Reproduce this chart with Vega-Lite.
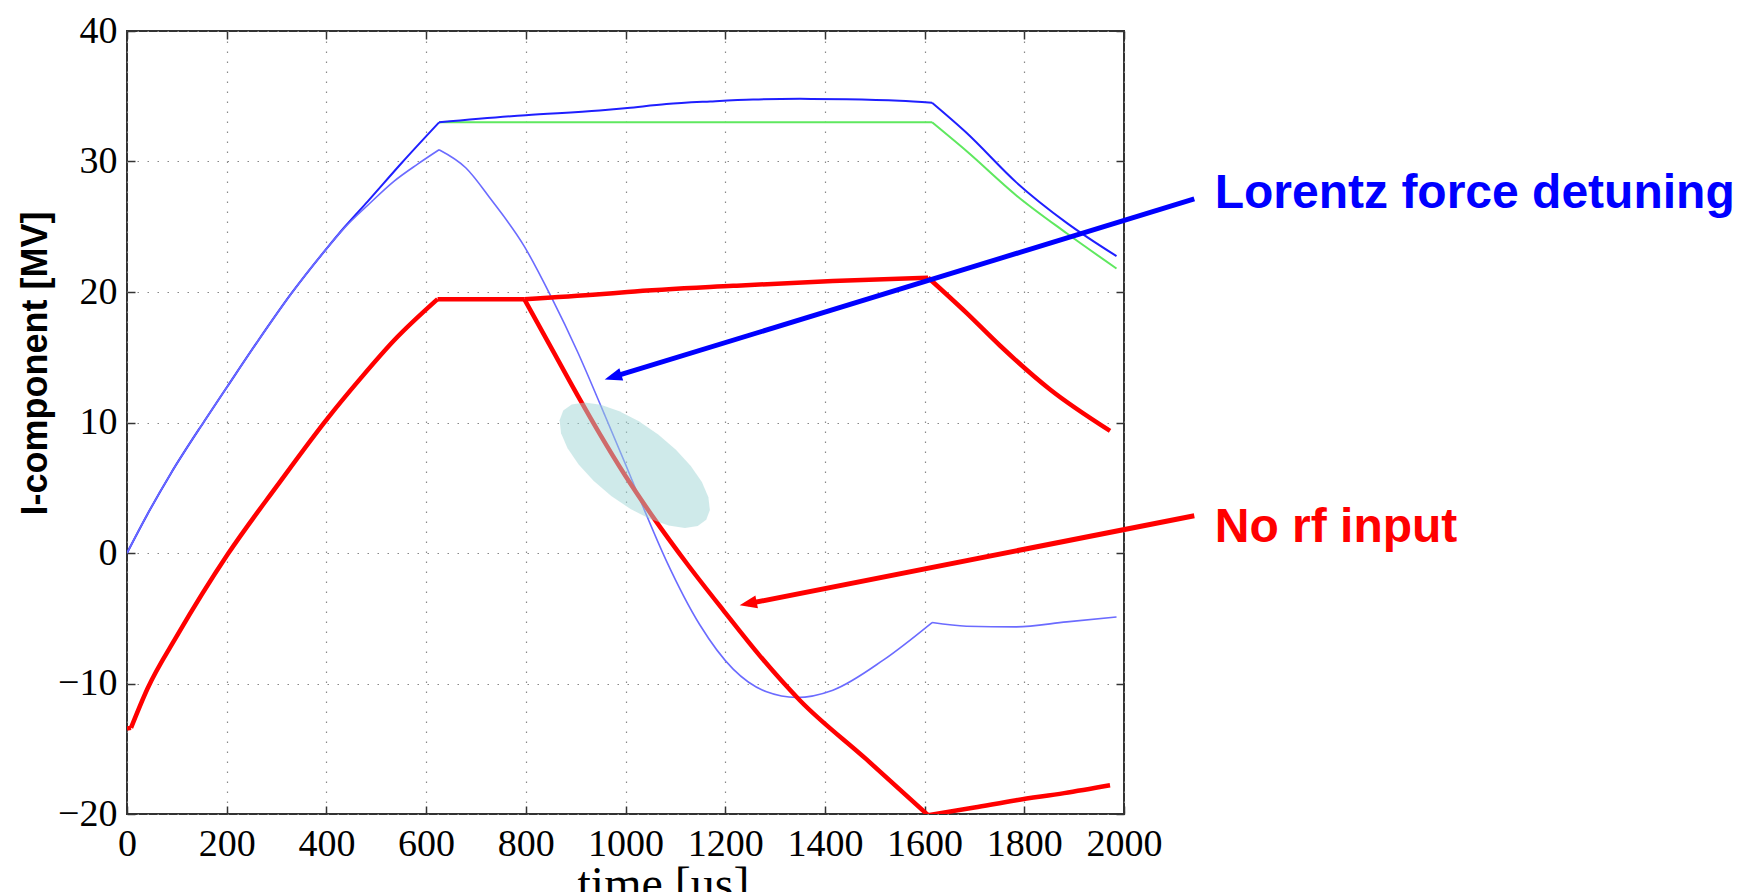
{
  "$schema": "https://vega.github.io/schema/vega-lite/v6.json",
  "width": 997,
  "height": 783,
  "autosize": {"type": "none"},
  "padding": {"left": 127, "top": 31, "right": 626, "bottom": 78},
  "background": "white",
  "config": {
    "view": {"stroke": "#333333", "strokeWidth": 2},
    "axis": {"labelColor": "#000000", "titleColor": "#000000"}
  },
  "datasets": {
    "curves": [
      {"s": "green", "g": 1, "t": 626, "v": 33.0},
      {"s": "green", "g": 1, "t": 1615, "v": 33.0},
      {"s": "green", "g": 2, "t": 1615, "v": 33.0},
      {"s": "green", "g": 2, "t": 1684, "v": 30.8},
      {"s": "green", "g": 2, "t": 1784, "v": 27.4},
      {"s": "green", "g": 2, "t": 1885, "v": 24.5},
      {"s": "green", "g": 2, "t": 1985, "v": 21.8},

      {"s": "outer", "g": 1, "t": 0, "v": 0},
      {"s": "outer", "g": 1, "t": 40, "v": 2.9},
      {"s": "outer", "g": 1, "t": 88, "v": 6.1},
      {"s": "outer", "g": 1, "t": 155, "v": 10.1},
      {"s": "outer", "g": 1, "t": 202, "v": 12.8},
      {"s": "outer", "g": 1, "t": 260, "v": 16.1},
      {"s": "outer", "g": 1, "t": 329, "v": 19.85},
      {"s": "outer", "g": 1, "t": 402, "v": 23.4},
      {"s": "outer", "g": 1, "t": 437, "v": 25.0},
      {"s": "outer", "g": 1, "t": 483, "v": 26.95},
      {"s": "outer", "g": 1, "t": 550, "v": 29.85},
      {"s": "outer", "g": 1, "t": 626, "v": 33.0},
      {"s": "outer", "g": 2, "t": 626, "v": 33.0},
      {"s": "outer", "g": 2, "t": 800, "v": 33.55},
      {"s": "outer", "g": 2, "t": 948, "v": 33.9},
      {"s": "outer", "g": 2, "t": 1004, "v": 34.1},
      {"s": "outer", "g": 2, "t": 1082, "v": 34.4},
      {"s": "outer", "g": 2, "t": 1170, "v": 34.6},
      {"s": "outer", "g": 2, "t": 1256, "v": 34.75},
      {"s": "outer", "g": 2, "t": 1350, "v": 34.8},
      {"s": "outer", "g": 2, "t": 1443, "v": 34.77},
      {"s": "outer", "g": 2, "t": 1550, "v": 34.65},
      {"s": "outer", "g": 2, "t": 1615, "v": 34.5},
      {"s": "outer", "g": 3, "t": 1615, "v": 34.5},
      {"s": "outer", "g": 3, "t": 1684, "v": 32.2},
      {"s": "outer", "g": 3, "t": 1784, "v": 28.4},
      {"s": "outer", "g": 3, "t": 1885, "v": 25.3},
      {"s": "outer", "g": 3, "t": 1985, "v": 22.75},

      {"s": "inner", "g": 1, "t": 0, "v": 0},
      {"s": "inner", "g": 1, "t": 40, "v": 2.9},
      {"s": "inner", "g": 1, "t": 88, "v": 6.1},
      {"s": "inner", "g": 1, "t": 155, "v": 10.1},
      {"s": "inner", "g": 1, "t": 202, "v": 12.8},
      {"s": "inner", "g": 1, "t": 260, "v": 16.1},
      {"s": "inner", "g": 1, "t": 329, "v": 19.85},
      {"s": "inner", "g": 1, "t": 402, "v": 23.4},
      {"s": "inner", "g": 1, "t": 437, "v": 24.95},
      {"s": "inner", "g": 1, "t": 483, "v": 26.65},
      {"s": "inner", "g": 1, "t": 536, "v": 28.5},
      {"s": "inner", "g": 1, "t": 583, "v": 29.8},
      {"s": "inner", "g": 1, "t": 626, "v": 30.9},
      {"s": "inner", "g": 2, "t": 626, "v": 30.9},
      {"s": "inner", "g": 2, "t": 680, "v": 29.5},
      {"s": "inner", "g": 2, "t": 730, "v": 27.1},
      {"s": "inner", "g": 2, "t": 797, "v": 23.5},
      {"s": "inner", "g": 2, "t": 850, "v": 19.7},
      {"s": "inner", "g": 2, "t": 904, "v": 15.4},
      {"s": "inner", "g": 2, "t": 958, "v": 10.6},
      {"s": "inner", "g": 2, "t": 1000, "v": 6.8},
      {"s": "inner", "g": 2, "t": 1028, "v": 4.2},
      {"s": "inner", "g": 2, "t": 1082, "v": -0.6},
      {"s": "inner", "g": 2, "t": 1149, "v": -5.5},
      {"s": "inner", "g": 2, "t": 1216, "v": -8.9},
      {"s": "inner", "g": 2, "t": 1283, "v": -10.64},
      {"s": "inner", "g": 2, "t": 1343, "v": -11.07},
      {"s": "inner", "g": 2, "t": 1416, "v": -10.51},
      {"s": "inner", "g": 2, "t": 1517, "v": -8.21},
      {"s": "inner", "g": 2, "t": 1615, "v": -5.33},
      {"s": "inner", "g": 3, "t": 1615, "v": -5.33},
      {"s": "inner", "g": 3, "t": 1684, "v": -5.61},
      {"s": "inner", "g": 3, "t": 1784, "v": -5.66},
      {"s": "inner", "g": 3, "t": 1885, "v": -5.28},
      {"s": "inner", "g": 3, "t": 1985, "v": -4.9},

      {"s": "redA", "g": 0, "t": 0, "v": -13.45},
      {"s": "redA", "g": 0, "t": 8, "v": -13.4},
      {"s": "redA", "g": 1, "t": 8, "v": -13.4},
      {"s": "redA", "g": 1, "t": 41, "v": -10.4},
      {"s": "redA", "g": 1, "t": 101, "v": -6.3},
      {"s": "redA", "g": 1, "t": 202, "v": -0.1},
      {"s": "redA", "g": 1, "t": 302, "v": 5.2},
      {"s": "redA", "g": 1, "t": 402, "v": 10.3},
      {"s": "redA", "g": 1, "t": 469, "v": 13.4},
      {"s": "redA", "g": 1, "t": 536, "v": 16.3},
      {"s": "redA", "g": 1, "t": 623, "v": 19.45},
      {"s": "redA", "g": 2, "t": 623, "v": 19.45},
      {"s": "redA", "g": 2, "t": 797, "v": 19.45},
      {"s": "redA", "g": 3, "t": 797, "v": 19.45},
      {"s": "redA", "g": 3, "t": 948, "v": 19.83},
      {"s": "redA", "g": 3, "t": 1004, "v": 20.0},
      {"s": "redA", "g": 3, "t": 1216, "v": 20.47},
      {"s": "redA", "g": 3, "t": 1416, "v": 20.85},
      {"s": "redA", "g": 3, "t": 1607, "v": 21.1},
      {"s": "redA", "g": 4, "t": 1607, "v": 21.1},
      {"s": "redA", "g": 4, "t": 1684, "v": 18.4},
      {"s": "redA", "g": 4, "t": 1751, "v": 15.9},
      {"s": "redA", "g": 4, "t": 1851, "v": 12.55},
      {"s": "redA", "g": 4, "t": 1972, "v": 9.36},

      {"s": "redB", "g": 1, "t": 797, "v": 19.45},
      {"s": "redB", "g": 1, "t": 850, "v": 15.8},
      {"s": "redB", "g": 1, "t": 911, "v": 11.6},
      {"s": "redB", "g": 1, "t": 948, "v": 9.15},
      {"s": "redB", "g": 1, "t": 1000, "v": 5.9},
      {"s": "redB", "g": 1, "t": 1055, "v": 2.77},
      {"s": "redB", "g": 1, "t": 1125, "v": -0.9},
      {"s": "redB", "g": 1, "t": 1196, "v": -4.38},
      {"s": "redB", "g": 1, "t": 1270, "v": -7.9},
      {"s": "redB", "g": 1, "t": 1350, "v": -11.3},
      {"s": "redB", "g": 1, "t": 1483, "v": -15.8},
      {"s": "redB", "g": 1, "t": 1607, "v": -20.09},
      {"s": "redB", "g": 2, "t": 1607, "v": -20.09},
      {"s": "redB", "g": 2, "t": 1700, "v": -19.5},
      {"s": "redB", "g": 2, "t": 1784, "v": -18.94},
      {"s": "redB", "g": 2, "t": 1880, "v": -18.4},
      {"s": "redB", "g": 2, "t": 1972, "v": -17.8}
    ],
    "arrows": [
      {"a": "lfd", "t": 2141, "v": 27.13},
      {"a": "lfd", "t": 973.5, "v": 13.47},
      {"a": "norf", "t": 2141, "v": 2.85},
      {"a": "norf", "t": 1244.9, "v": -3.89}
    ],
    "heads": [
      {"a": "lfd", "t": 958.3, "v": 13.3},
      {"a": "norf", "t": 1229, "v": -4.0}
    ],
    "spot": [
      {"t": 1018.5, "v": 6.73}
    ],
    "notes": [
      {"a": "lfd", "t": 2182, "v": 26.4, "label": "Lorentz force detuning"},
      {"a": "norf", "t": 2182, "v": 0.85, "label": "No rf input"}
    ]
  },
  "layer": [
    {
      "data": {"name": "curves"},
      "transform": [{"filter": "datum.s === 'green'"}],
      "mark": {"type": "line", "color": "#5fe85f", "strokeWidth": 2, "clip": true, "interpolate": "monotone"},
      "encoding": {
        "x": {"field": "t", "type": "quantitative", "scale": {"domain": [0, 2000], "nice": false},
          "axis": {"orient": "top", "values": [0, 200, 400, 600, 800, 1000, 1200, 1400, 1600, 1800, 2000], "labels": false, "ticks": true, "tickSize": -8, "tickColor": "#333333", "tickWidth": 1.5, "domain": false, "grid": false, "title": null}},
        "y": {"field": "v", "type": "quantitative", "scale": {"domain": [-20, 40], "nice": false},
          "axis": {"orient": "right", "values": [-20, -10, 0, 10, 20, 30, 40], "labels": false, "ticks": true, "tickSize": -8, "tickColor": "#333333", "tickWidth": 1.5, "domain": false, "grid": false, "title": null}},
        "detail": {"field": "g"}
      }
    },
    {
      "data": {"name": "curves"},
      "transform": [{"filter": "datum.s === 'outer'"}],
      "mark": {"type": "line", "color": "#1f1fff", "strokeWidth": 2, "clip": true, "interpolate": "monotone"},
      "encoding": {
        "x": {"field": "t", "type": "quantitative",
          "axis": {"orient": "bottom", "values": [0, 200, 400, 600, 800, 1000, 1200, 1400, 1600, 1800, 2000], "format": "d",
            "title": "time [us]", "titleFont": "Liberation Serif", "titleFontSize": 48, "titleFontWeight": "normal",
            "titleX": 536, "titleY": 47, "titleAlign": "center", "titleBaseline": "top",
            "labelFont": "Liberation Serif", "labelFontSize": 38, "labelPadding": 19, "labelDx": 6,
            "labelFlush": false, "labelOverlap": false, "labelBound": false,
            "tickSize": -8, "tickColor": "#333333", "tickWidth": 1.5, "domain": false,
            "grid": true, "gridColor": "#888888", "gridDash": [1.5, 8.5], "gridWidth": 1.2}},
        "y": {"field": "v", "type": "quantitative",
          "axis": {"orient": "left", "values": [-20, -10, 0, 10, 20, 30, 40], "format": "d",
            "title": "I-component [MV]", "titleFont": "Liberation Sans", "titleFontSize": 36, "titleFontWeight": "bold",
            "titleX": -92, "titleY": 332, "titleAngle": -90, "titleAlign": "center", "titleBaseline": "middle",
            "labelFont": "Liberation Serif", "labelFontSize": 38, "labelPadding": 18, "labelDy": -2,
            "labelFlush": false, "labelOverlap": false, "labelBound": false,
            "tickSize": -8, "tickColor": "#333333", "tickWidth": 1.5, "domain": false,
            "grid": true, "gridColor": "#888888", "gridDash": [1.5, 8.5], "gridWidth": 1.2}},
        "detail": {"field": "g"}
      }
    },
    {
      "data": {"name": "curves"},
      "transform": [{"filter": "datum.s === 'inner'"}],
      "mark": {"type": "line", "color": "#6b6bff", "strokeWidth": 1.6, "clip": true, "interpolate": "monotone"},
      "encoding": {
        "x": {"field": "t", "type": "quantitative", "axis": null},
        "y": {"field": "v", "type": "quantitative", "axis": null},
        "detail": {"field": "g"}
      }
    },
    {
      "data": {"name": "curves"},
      "transform": [{"filter": "datum.s === 'redA'"}],
      "mark": {"type": "line", "color": "#ff0000", "strokeWidth": 4.5, "clip": true, "interpolate": "monotone", "strokeJoin": "round"},
      "encoding": {
        "x": {"field": "t", "type": "quantitative", "axis": null},
        "y": {"field": "v", "type": "quantitative", "axis": null},
        "detail": {"field": "g"}
      }
    },
    {
      "data": {"name": "curves"},
      "transform": [{"filter": "datum.s === 'redB'"}],
      "mark": {"type": "line", "color": "#ff0000", "strokeWidth": 4.5, "clip": true, "interpolate": "monotone"},
      "encoding": {
        "x": {"field": "t", "type": "quantitative", "axis": null},
        "y": {"field": "v", "type": "quantitative", "axis": null},
        "detail": {"field": "g"}
      }
    },
    {
      "data": {"name": "spot"},
      "mark": {"type": "point", "filled": true, "fill": "#9fd6d6", "opacity": 0.5, "strokeWidth": 0, "size": 32400, "angle": 37.4,
        "shape": "M1,0 L0.966,0.111 L0.866,0.215 L0.707,0.304 L0.5,0.372 L0.259,0.415 L0,0.43 L-0.259,0.415 L-0.5,0.372 L-0.707,0.304 L-0.866,0.215 L-0.966,0.111 L-1,0 L-0.966,-0.111 L-0.866,-0.215 L-0.707,-0.304 L-0.5,-0.372 L-0.259,-0.415 L0,-0.43 L0.259,-0.415 L0.5,-0.372 L0.707,-0.304 L0.866,-0.215 L0.966,-0.111 Z"},
      "encoding": {
        "x": {"field": "t", "type": "quantitative", "axis": null},
        "y": {"field": "v", "type": "quantitative", "axis": null}
      }
    },
    {
      "data": {"name": "arrows"},
      "transform": [{"filter": "datum.a === 'lfd'"}],
      "mark": {"type": "line", "color": "#0000ff", "strokeWidth": 5},
      "encoding": {
        "x": {"field": "t", "type": "quantitative", "axis": null},
        "y": {"field": "v", "type": "quantitative", "axis": null}
      }
    },
    {
      "data": {"name": "arrows"},
      "transform": [{"filter": "datum.a === 'norf'"}],
      "mark": {"type": "line", "color": "#ff0000", "strokeWidth": 5},
      "encoding": {
        "x": {"field": "t", "type": "quantitative", "axis": null},
        "y": {"field": "v", "type": "quantitative", "axis": null}
      }
    },
    {
      "data": {"name": "heads"},
      "transform": [{"filter": "datum.a === 'lfd'"}],
      "mark": {"type": "point", "filled": true, "fill": "#0000ff", "opacity": 1, "strokeWidth": 0, "size": 300, "angle": 162.96, "shape": "M0,0 L-2,-0.75 L-2,0.75 Z"},
      "encoding": {
        "x": {"field": "t", "type": "quantitative", "axis": null},
        "y": {"field": "v", "type": "quantitative", "axis": null}
      }
    },
    {
      "data": {"name": "heads"},
      "transform": [{"filter": "datum.a === 'norf'"}],
      "mark": {"type": "point", "filled": true, "fill": "#ff0000", "opacity": 1, "strokeWidth": 0, "size": 300, "angle": 168.9, "shape": "M0,0 L-2,-0.75 L-2,0.75 Z"},
      "encoding": {
        "x": {"field": "t", "type": "quantitative", "axis": null},
        "y": {"field": "v", "type": "quantitative", "axis": null}
      }
    },
    {
      "data": {"name": "notes"},
      "transform": [{"filter": "datum.a === 'lfd'"}],
      "mark": {"type": "text", "align": "left", "baseline": "alphabetic", "font": "Liberation Sans", "fontWeight": "bold", "fontSize": 48, "color": "#0000ff"},
      "encoding": {
        "x": {"field": "t", "type": "quantitative", "axis": null},
        "y": {"field": "v", "type": "quantitative", "axis": null},
        "text": {"field": "label"}
      }
    },
    {
      "data": {"name": "notes"},
      "transform": [{"filter": "datum.a === 'norf'"}],
      "mark": {"type": "text", "align": "left", "baseline": "alphabetic", "font": "Liberation Sans", "fontWeight": "bold", "fontSize": 48, "color": "#ff0000"},
      "encoding": {
        "x": {"field": "t", "type": "quantitative", "axis": null},
        "y": {"field": "v", "type": "quantitative", "axis": null},
        "text": {"field": "label"}
      }
    }
  ],
  "resolve": {"axis": {"x": "independent", "y": "independent"}}
}
